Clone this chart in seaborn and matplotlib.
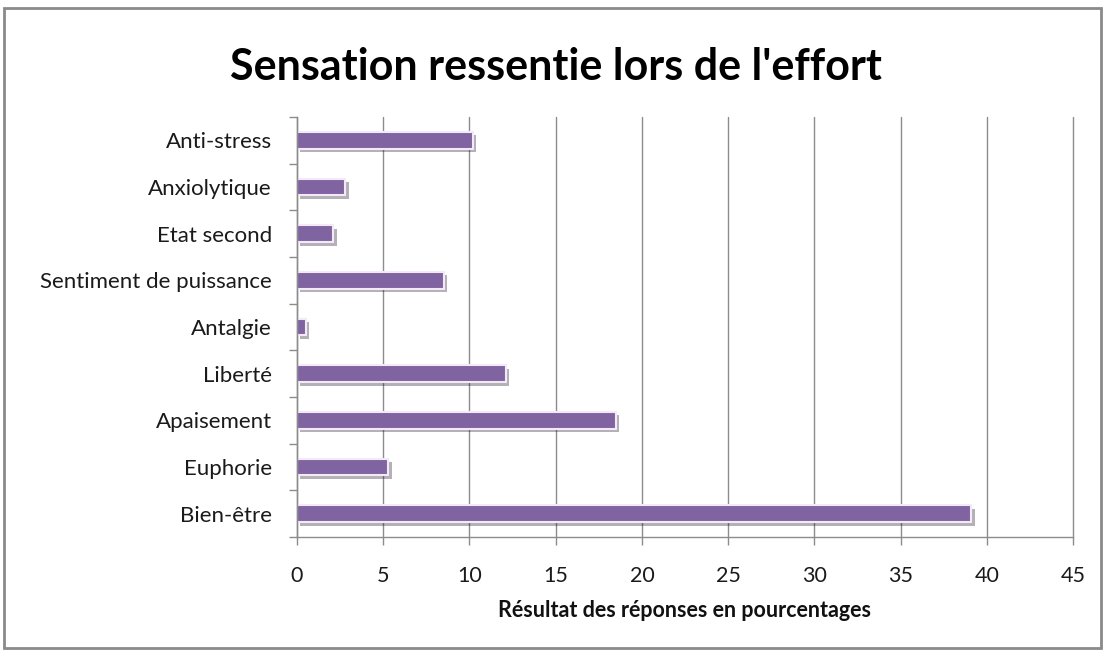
import matplotlib
matplotlib.use("Agg")
import matplotlib.pyplot as plt
import matplotlib.patheffects as pe
from matplotlib.patches import Rectangle
import seaborn as sns
import pandas as pd

categories = ["Anti-stress", "Anxiolytique", "Etat second", "Sentiment de puissance",
              "Antalgie", "Liberté", "Apaisement", "Euphorie", "Bien-être"]
values = [10.2, 2.8, 2.1, 8.5, 0.5, 12.1, 18.5, 5.3, 39.1]
xticks = [0, 5, 10, 15, 20, 25, 30, 35, 40, 45]
title = "Sensation ressentie lors de l'effort"
xlabel = "Résultat des réponses en pourcentages"

sns.set_theme(style="white")
plt.rcParams['font.family'] = ['Lato', 'DejaVu Sans']

df = pd.DataFrame({"cat": categories, "val": values})

fig = plt.figure(figsize=(11.05, 6.5), dpi=100)
fig.patch.set_facecolor("white")
ax = fig.add_axes([297/1105, 1-537/650, (1073-297)/1105, (537-117)/650])

sns.barplot(data=df, x="val", y="cat", orient="h", order=categories,
            color="#8064A2", saturation=1, width=0.36, ax=ax,
            edgecolor="#f3e9f7", linewidth=1.5)
for p in ax.patches:
    p.set_path_effects([pe.SimplePatchShadow(offset=(2.5, -2.5), alpha=0.35), pe.Normal()])

ax.set_xlim(0, 45)
ax.set_ylim(len(categories) - 0.5, -0.5)
ax.set_xticks(xticks)
ax.set_xticklabels([str(t) for t in xticks])
ax.xaxis.grid(True, color="#8c8c8c", linewidth=1.0)
for gl in ax.xaxis.get_gridlines():
    gl.set_clip_on(False)
ax.yaxis.grid(False)
ax.set_axisbelow(True)
for s in ["top", "right"]:
    ax.spines[s].set_visible(False)
for s in ["left", "bottom"]:
    ax.spines[s].set_color("#8c8c8c")
    ax.spines[s].set_linewidth(1.0)

ax.set_yticks([i - 0.5 for i in range(len(categories) + 1)], minor=True)
ax.tick_params(axis="y", which="minor", length=6, color="#8c8c8c", left=True, width=1)
ax.tick_params(axis="y", which="major", length=0, pad=18, labelsize=16, labelcolor="#1a1a1a")
ax.tick_params(axis="x", which="major", length=6, color="#8c8c8c", bottom=True, width=1,
               pad=15, labelsize=15.5, labelcolor="#1a1a1a")

ax.set_ylabel("")
ax.set_xlabel(xlabel, fontsize=15.5, fontweight="bold", labelpad=10, color="#111111")

fig.text(0.503, 0.897, title, ha="center", va="center", fontsize=31, fontweight="bold", color="black")

fig.patches.append(Rectangle((0.004, 0.003), 0.992, 0.985, transform=fig.transFigure,
                             fill=False, edgecolor="#8a8a8a", linewidth=2.0))

fig.savefig("out.png", dpi=100, facecolor="white")
